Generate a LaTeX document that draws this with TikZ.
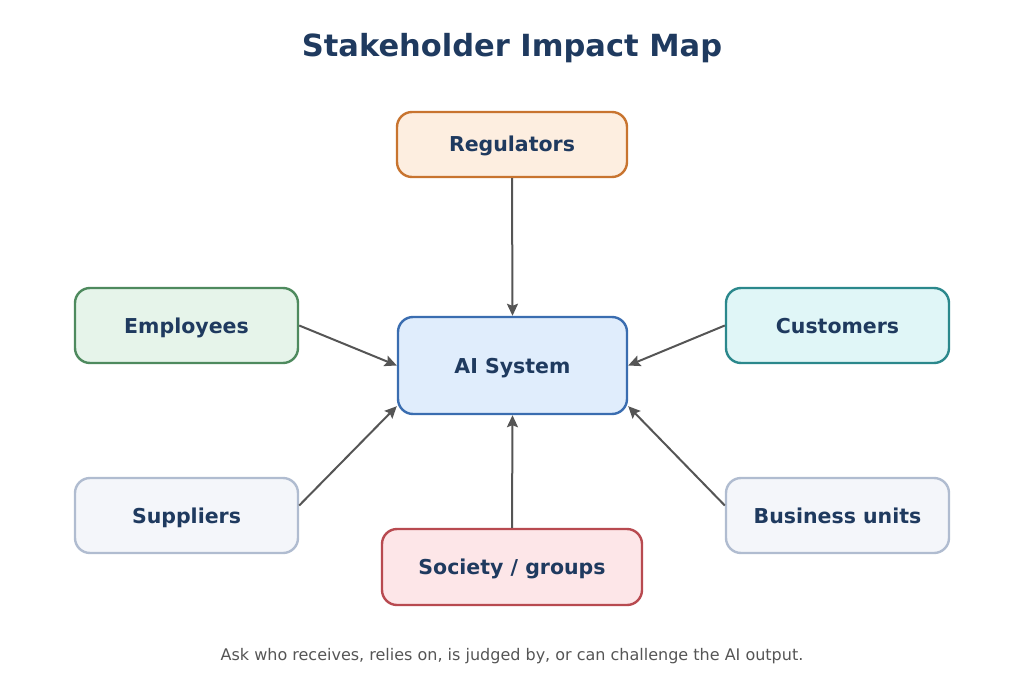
\documentclass[tikz,border=0pt]{standalone}
\usepackage{fontspec}
\setmainfont{DejaVu Sans}
\usetikzlibrary{arrows.meta}
\definecolor{navy}{HTML}{1F3A5F}
\definecolor{arrowgray}{HTML}{555555}
\definecolor{regfill}{HTML}{FDEEE0}\definecolor{regdraw}{HTML}{C8742F}
\definecolor{aifill}{HTML}{E0EDFC}\definecolor{aidraw}{HTML}{3A6DB0}
\definecolor{empfill}{HTML}{E6F4EA}\definecolor{empdraw}{HTML}{4E8A5E}
\definecolor{cusfill}{HTML}{E0F6F7}\definecolor{cusdraw}{HTML}{2B888C}
\definecolor{grayfill}{HTML}{F4F6FA}\definecolor{graydraw}{HTML}{B0BCD0}
\definecolor{socfill}{HTML}{FDE6E8}\definecolor{socdraw}{HTML}{B84A50}
\definecolor{footgray}{HTML}{555555}
\tikzset{
  box/.style={rectangle, rounded corners=15pt, line width=2.4pt, inner sep=0pt,
    text height=15pt, text depth=0pt,
    text=navy, font=\fontsize{20.5}{24}\selectfont\bfseries, align=center},
  conn/.style={draw=arrowgray, line width=2pt, -{Stealth[length=12pt,width=11pt,inset=2pt]}}
}
\begin{document}
\begin{tikzpicture}[x=1pt,y=-1pt]
\useasboundingbox (0,0) rectangle (1024,695);
\node[anchor=base, text=navy, font=\fontsize{30.5}{36}\selectfont\bfseries] (title) at (512,57) {Stakeholder Impact Map};
\node[box, fill=regfill, draw=regdraw, minimum width=230pt, minimum height=65pt] (reg) at (512,144.5) {Regulators};
\node[box, fill=aifill, draw=aidraw, minimum width=229pt, minimum height=97pt] (ai) at (512.5,365.5) {AI System};
\node[box, fill=empfill, draw=empdraw, minimum width=223pt, minimum height=75pt] (emp) at (186.5,325.5) {Employees};
\node[box, fill=cusfill, draw=cusdraw, minimum width=223pt, minimum height=75pt] (cus) at (837.5,325.5) {Customers};
\node[box, fill=grayfill, draw=graydraw, minimum width=223pt, minimum height=75pt] (sup) at (186.5,515.5) {Suppliers};
\node[box, fill=grayfill, draw=graydraw, minimum width=223pt, minimum height=75pt] (bus) at (837.5,515.5) {Business units};
\node[box, fill=socfill, draw=socdraw, minimum width=260pt, minimum height=76pt] (soc) at (512,567) {Society / groups};
\draw[conn] (reg.south) -- (ai.north);
\draw[conn] (emp.east) -- (ai.west);
\draw[conn] (cus.west) -- (ai.east);
\draw[conn] ([yshift=10pt]sup.east) -- ([yshift=9pt]ai.south west);
\draw[conn] ([yshift=10pt]bus.west) -- ([yshift=9pt]ai.south east);
\draw[conn] (soc.north) -- (ai.south);
\node[anchor=base, text=footgray, font=\fontsize{16}{19}\selectfont] (foot) at (512,660) {Ask who receives, relies on, is judged by, or can challenge the AI output.};
\end{tikzpicture}
\end{document}
